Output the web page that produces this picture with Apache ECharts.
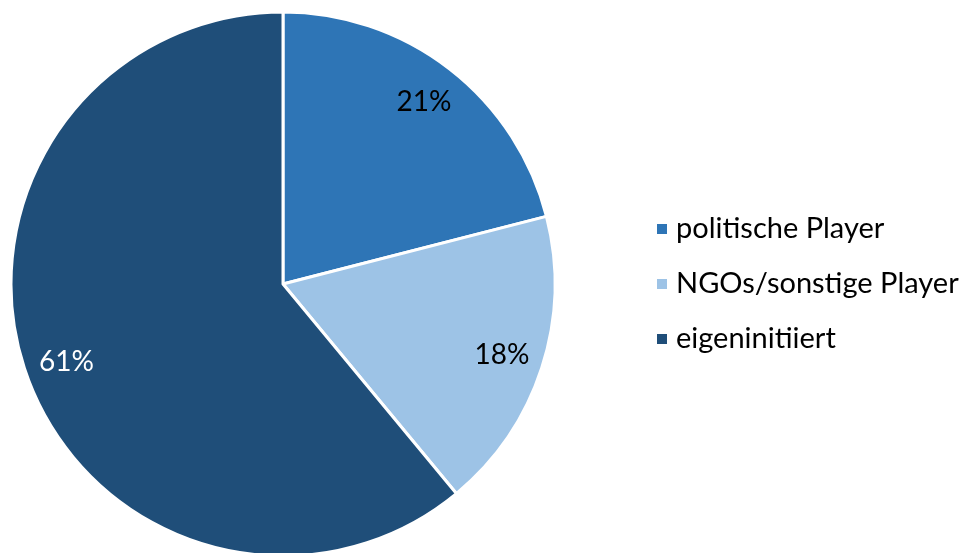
<!DOCTYPE html>
<html>
<head>
<meta charset="utf-8">
<script src="https://cdn.jsdelivr.net/npm/echarts@6/dist/echarts.min.js"></script>
<style>
  html, body { margin: 0; padding: 0; background: #fff; }
  #chart { width: 962px; height: 553px; }
</style>
</head>
<body>
<div id="chart"></div>
<script>
// Share of initiatives by initiator
const categories = ['politische Player', 'NGOs/sonstige Player', 'eigeninitiiert'];
const shares = [21, 18, 61];
const colors = ['#2E75B6', '#9DC3E6', '#1F4E79'];
const labelColors = ['#000000', '#000000', '#ffffff'];

const FONT = 'Lato, "Open Sans", sans-serif';
const center = [283, 284];
const R = 272;

const sliceData = categories.map((name, i) => ({
  name,
  value: shares[i],
  itemStyle: { color: colors[i] }
}));

const labelData = categories.map((name, i) => ({
  name,
  value: shares[i],
  label: { color: labelColors[i] }
}));

const chart = echarts.init(document.getElementById('chart'), null, { renderer: 'canvas' });
chart.setOption({
  animation: false,
  backgroundColor: '#ffffff',
  legend: {
    orient: 'vertical',
    left: 650,
    top: 207,
    itemWidth: 12,
    itemHeight: 12,
    itemGap: 21,
    icon: 'rect',
    selectedMode: false,
    data: categories,
    textStyle: { fontFamily: FONT, fontSize: 29, lineHeight: 34, color: '#000', padding: [0, 0, 0, 3] }
  },
  series: [
    {
      type: 'pie',
      center: center,
      radius: [0, R],
      startAngle: 90,
      clockwise: true,
      silent: true,
      itemStyle: { borderColor: '#ffffff', borderWidth: 3 },
      label: { show: false },
      labelLine: { show: false },
      data: sliceData
    },
    {
      // transparent ring used only to place the percentage labels
      type: 'pie',
      center: center,
      radius: [R * 0.67, R],
      startAngle: 90,
      clockwise: true,
      silent: true,
      itemStyle: { color: 'rgba(0,0,0,0)', borderWidth: 0 },
      label: {
        show: true,
        position: 'inside',
        fontFamily: FONT,
        fontSize: 28,
        formatter: p => p.value + '%'
      },
      labelLine: { show: false },
      data: labelData
    }
  ]
});
</script>
</body>
</html>
